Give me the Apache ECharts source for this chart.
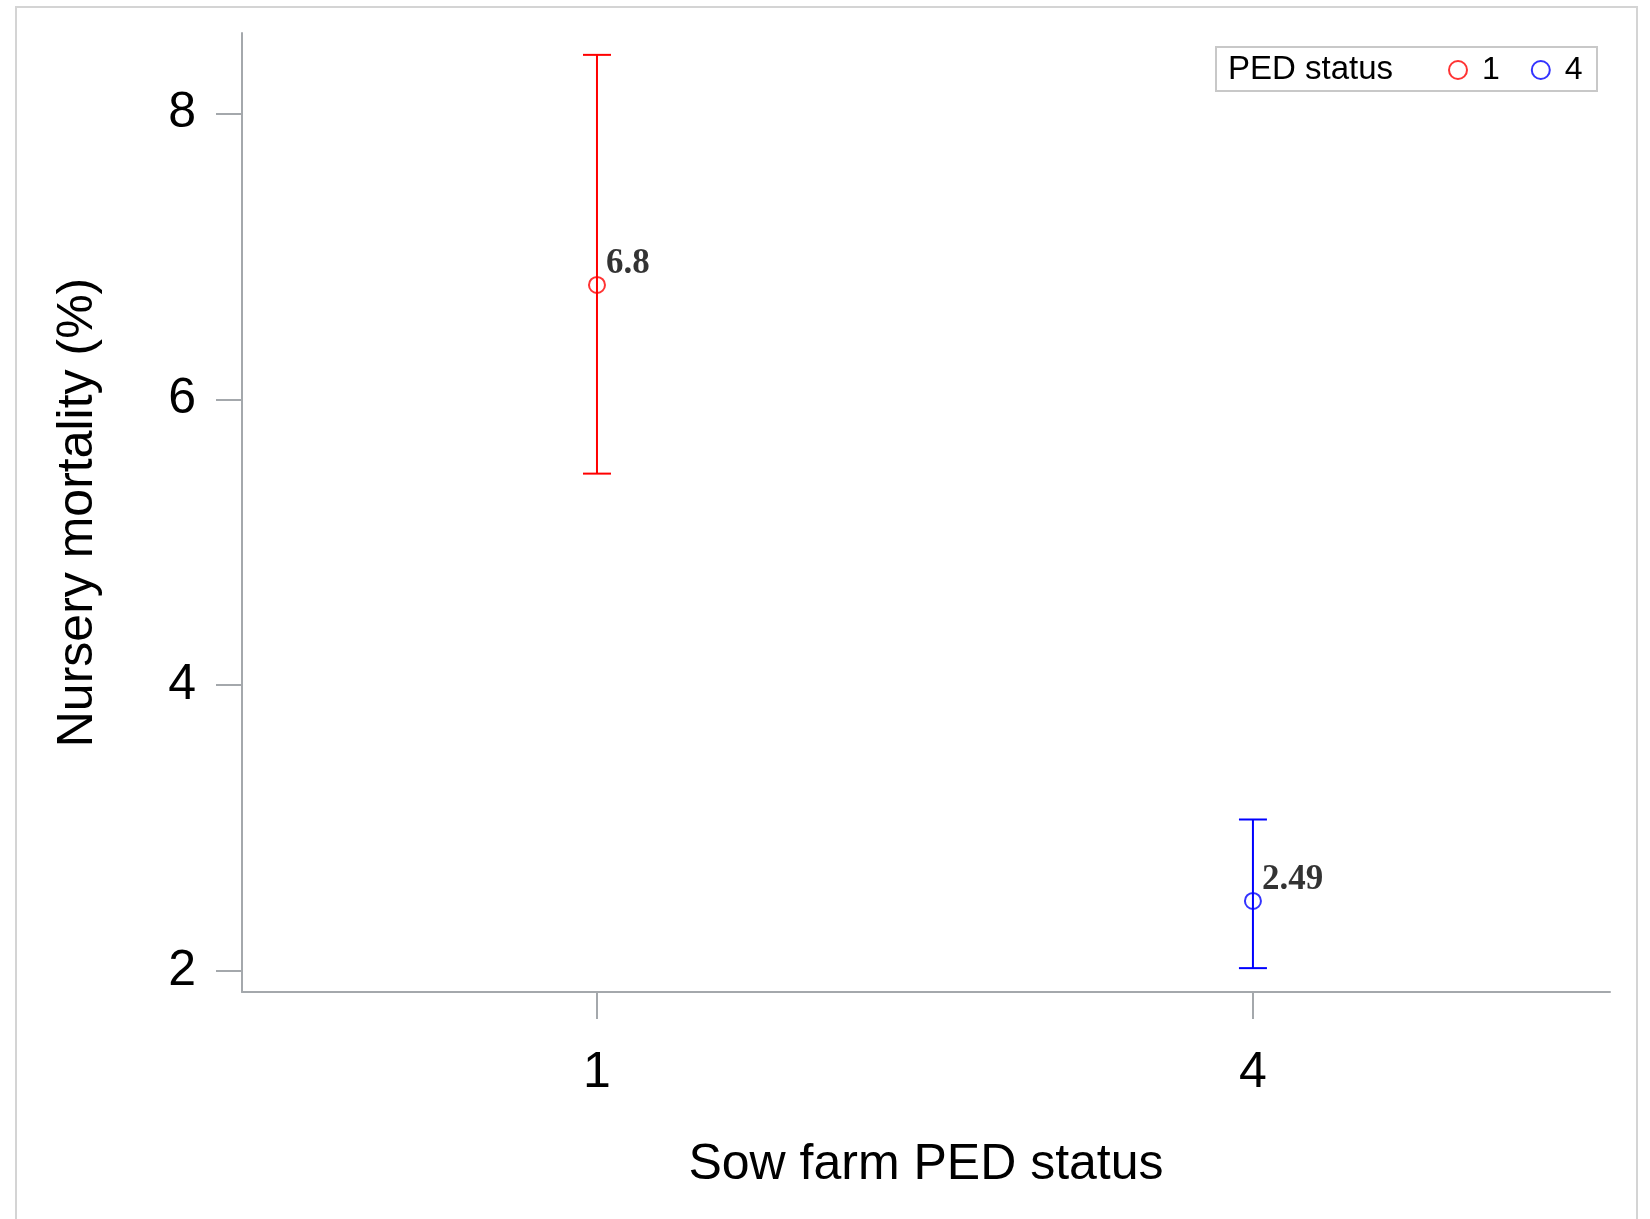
<!DOCTYPE html>
<html>
<head>
<meta charset="utf-8">
<script src="https://cdn.jsdelivr.net/npm/echarts@6/dist/echarts.min.js"></script>
<style>
  html, body { margin: 0; padding: 0; background: #fff; }
  #chart { width: 1650px; height: 1219px; }
</style>
</head>
<body>
<div id="chart"></div>
<script>
// PED status groups and their estimates
const groups = ['1', '4'];
const groupX = [1, 4];
const means = [6.8, 2.49];
const lower = [5.48, 2.02];
const upper = [8.41, 3.06];
const colors = ['#ff0000', '#0000ff'];
const yTicks = [2, 4, 6, 8];

const chart = echarts.init(document.getElementById('chart'));

const axisGrey = '#a4a8ac';
const sansFont = 'Liberation Sans, Arial, sans-serif';

// error bars (vertical line + caps)
const errorSeries = {
  type: 'custom',
  z: 2,
  silent: true,
  data: groups.map((g, i) => [groupX[i], lower[i], upper[i], i]),
  renderItem: function (params, api) {
    const x = api.value(0);
    const lo = api.coord([x, api.value(1)]);
    const hi = api.coord([x, api.value(2)]);
    const half = 14;
    const style = { stroke: colors[api.value(3)], lineWidth: 2, fill: null };
    return {
      type: 'group',
      children: [
        { type: 'line', shape: { x1: lo[0], y1: lo[1], x2: hi[0], y2: hi[1] }, style: style },
        { type: 'line', shape: { x1: lo[0] - half, y1: lo[1], x2: lo[0] + half, y2: lo[1] }, style: style },
        { type: 'line', shape: { x1: hi[0] - half, y1: hi[1], x2: hi[0] + half, y2: hi[1] }, style: style }
      ]
    };
  }
};

// one scatter series per group so the legend shows both
const pointSeries = groups.map((g, i) => ({
  name: g,
  type: 'scatter',
  z: 3,
  symbol: 'circle',
  symbolSize: 16,
  itemStyle: { color: 'rgba(0,0,0,0)', borderColor: colors[i], borderWidth: 2 },
  label: {
    show: true,
    position: 'right',
    distance: 0,
    offset: [0, -21],
    formatter: p => String(p.value[1]),
    fontFamily: 'Liberation Serif, Times New Roman, serif',
    fontWeight: 'bold',
    fontSize: 35,
    color: '#000'
  },
  data: [[groupX[i], means[i]]]
}));

const option = {
  backgroundColor: '#fff',
  animation: false,
  grid: { left: 242, right: 40, top: 33, bottom: 227 },
  graphic: [
    {
      type: 'rect',
      shape: { x: 16, y: 7, width: 1621, height: 1300 },
      style: { fill: null, stroke: '#d4d4d4', lineWidth: 2 },
      silent: true
    },
    {
      type: 'rect',
      shape: { x: 1216, y: 47, width: 381, height: 44 },
      style: { fill: '#fff', stroke: '#c8c8c8', lineWidth: 2 },
      z: 10,
      silent: true
    },
    {
      type: 'text',
      x: 1228,
      y: 70,
      z: 11,
      style: {
        text: 'PED status',
        fontFamily: sansFont,
        fontSize: 33,
        fill: '#000',
        verticalAlign: 'middle'
      }
    }
  ],
  legend: {
    data: groups,
    left: 1448,
    top: 54,
    padding: 0,
    itemWidth: 18,
    itemHeight: 18,
    itemGap: 31,
    z: 12,
    textStyle: { fontFamily: sansFont, fontSize: 32, color: '#000', padding: [0, 0, 0, 10] }
  },
  xAxis: {
    type: 'value',
    min: -0.6235,
    max: 5.633,
    name: 'Sow farm PED status',
    nameLocation: 'middle',
    nameGap: 148,
    nameTextStyle: { fontFamily: sansFont, fontSize: 50, color: '#000' },
    splitLine: { show: false },
    axisLine: { show: true, onZero: false, lineStyle: { color: axisGrey, width: 2 } },
    axisTick: { show: true, length: 27, customValues: groupX, lineStyle: { color: axisGrey, width: 2 } },
    axisLabel: {
      customValues: groupX,
      margin: 56,
      fontFamily: sansFont,
      fontSize: 50,
      color: '#000',
      formatter: v => groups[groupX.indexOf(v)]
    }
  },
  yAxis: {
    type: 'value',
    min: 1.853,
    max: 8.563,
    name: 'Nursery mortality (%)',
    nameLocation: 'middle',
    nameGap: 139,
    nameTextStyle: { fontFamily: sansFont, fontSize: 50, color: '#000' },
    splitLine: { show: false },
    axisLine: { show: true, onZero: false, lineStyle: { color: axisGrey, width: 2 } },
    axisTick: { show: true, length: 26, customValues: yTicks, lineStyle: { color: axisGrey, width: 2 } },
    axisLabel: {
      customValues: yTicks,
      margin: 46,
      fontFamily: sansFont,
      fontSize: 50,
      color: '#000'
    }
  },
  series: [errorSeries].concat(pointSeries)
};

chart.setOption(option);
window.addEventListener('resize', function () {
  chart.resize();
});
</script>
</body>
</html>
